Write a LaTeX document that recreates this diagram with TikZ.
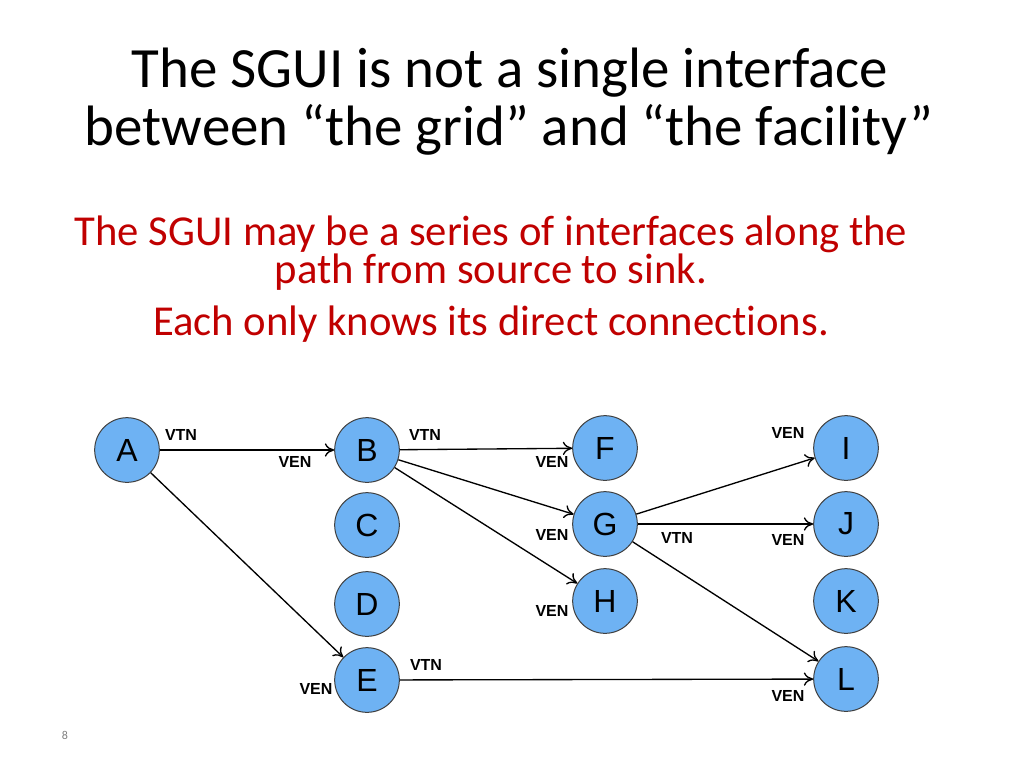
\documentclass[tikz,border=0pt]{standalone}
\usepackage{fontspec}
\usetikzlibrary{arrows.meta}
\setmainfont{Carlito}[Ligatures=NoCommon]
\newfontfamily\arialfont{Liberation Sans}
\definecolor{nodeblue}{RGB}{110,178,243}
\definecolor{slidered}{RGB}{192,0,0}
\tikzset{
  circnode/.style={circle, draw=black!75, line width=0.75pt, fill=nodeblue, minimum size=48.5pt, inner sep=0pt, font=\arialfont\fontsize{24}{24}\selectfont},
  linklabel/.style={inner sep=0.75pt, font=\arialfont\bfseries\fontsize{12}{12}\selectfont},
  link/.style={line width=1pt, -{To[length=7pt,width=10pt]}}
}
\begin{document}
\begin{tikzpicture}[x=0.75pt,y=0.75pt,yscale=-1,xscale=1]
\useasboundingbox (0,0) rectangle (1024,768);

% Title
\draw (510,87) node [anchor=base] [inner sep=0pt] {\fontsize{42.7}{50}\selectfont The SGUI is not a single interface};
\draw (509,145) node [anchor=base] [inner sep=0pt] {\fontsize{42.7}{50}\selectfont between “the grid” and “the facility”};

% Text Node
\draw (491,283) node [anchor=base] [inner sep=0pt, text=slidered, align=center, font=\fontsize{32}{28.5}\selectfont] {The SGUI may be a series of interfaces along the\\path from source to sink.};
\draw (491,335) node [anchor=base] [inner sep=0pt, text=slidered] {\fontsize{32}{38}\selectfont Each only knows its direct connections.};

%Shape: Circles
\draw (127,450) node [circnode] (A) {A};
\draw (367,450) node [circnode] (B) {B};
\draw (367,525) node [circnode] (C) {C};
\draw (367,604) node [circnode] (D) {D};
\draw (367,680) node [circnode] (E) {E};
\draw (605,448) node [circnode] (F) {F};
\draw (605,524) node [circnode] (G) {G};
\draw (605,601) node [circnode] (H) {H};
\draw (846,448) node [circnode] (I) {I};
\draw (846,524) node [circnode] (J) {J};
\draw (846,601) node [circnode] (K) {K};
\draw (846,679) node [circnode] (L) {L};

%Straight Lines
\draw [link] (A) -- (B) ;
\draw [link] (A) -- (E) ;
\draw [link] (B) -- (F) ;
\draw [link] (B) -- (G) ;
\draw [link] (B) -- (H) ;
\draw [link] (G) -- (I) ;
\draw [link] (G) -- (J) ;
\draw [link] (G) -- (L) ;
\draw [link] (E) -- (L) ;

% Text Node
\draw (181,435) node [linklabel] {VTN};
\draw (295,462) node [linklabel] {VEN};
\draw (316,689) node [linklabel] {VEN};
\draw (425,435) node [linklabel] {VTN};
\draw (552,462) node [linklabel] {VEN};
\draw (552,535) node [linklabel] {VEN};
\draw (552,611) node [linklabel] {VEN};
\draw (426,665) node [linklabel] {VTN};
\draw (788,433) node [linklabel] {VEN};
\draw (677,538) node [linklabel] {VTN};
\draw (788,540) node [linklabel] {VEN};
\draw (788,696) node [linklabel] {VEN};

% Slide number
\draw (65,735) node [inner sep=0pt, text=black!50] {\fontsize{9}{9}\selectfont 8};

\end{tikzpicture}
\end{document}
